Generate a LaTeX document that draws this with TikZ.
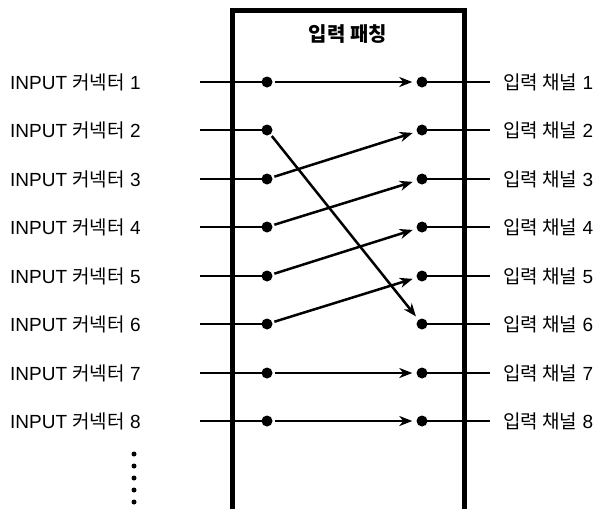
\documentclass[tikz,border=0pt]{standalone}
\usepackage{fontspec}
\setmainfont{Liberation Sans}
\newfontfamily\krfont{Noto Sans CJK KR}
\usetikzlibrary{arrows.meta}
\newcommand{\kr}[1]{{\krfont #1}}
\begin{document}
\begin{tikzpicture}[x=1pt,y=-1pt,
  dot/.style={circle,fill=black,inner sep=0pt,minimum size=11pt},
  sdot/.style={circle,fill=black,inner sep=0pt,minimum size=5pt},
  wire/.style={line width=2.5pt},
  patch/.style={line width=2.5pt,shorten <=2pt,shorten >=4pt,-{Stealth[length=13pt,width=10pt,inset=4pt]}},
  lbl/.style={anchor=west,font=\fontsize{19pt}{21pt}\selectfont,inner sep=0pt}]
\useasboundingbox (0,0) rectangle (599,509);
\draw[line width=5pt] (232,509) -- (232,10) -- (464,10) -- (464,509);
\node[font=\fontsize{20pt}{22pt}\selectfont\bfseries\krfont] (title) at (348,34) {입력 패칭};
\foreach \i/\y in {1/82,2/130,3/179,4/227,5/276,6/324,7/373,8/421}{
  \node[lbl] (in\i) at (10,\y) {INPUT \kr{커넥터} \i};
  \node[lbl] (out\i) at (503,\y) {\kr{입력 채널} \i};
  \coordinate (a\i) at (200,\y);
  \coordinate (b\i) at (490,\y);
  \node[dot] (L\i) at (267,\y) {};
  \node[dot] (R\i) at (422,\y) {};
  \draw[wire] (a\i) -- (L\i.center);
  \draw[wire] (R\i.center) -- (b\i);
}
\draw[patch] (L1) -- (R1);
\draw[patch] (L2) -- (R6);
\draw[patch] (L3) -- (R2);
\draw[patch] (L4) -- (R3);
\draw[patch] (L5) -- (R4);
\draw[patch] (L6) -- (R5);
\draw[patch] (L7) -- (R7);
\draw[patch] (L8) -- (R8);
\foreach \j/\y in {1/454,2/466,3/478,4/490,5/502}{
  \node[sdot] (d\j) at (134,\y) {};
}
\end{tikzpicture}
\end{document}
